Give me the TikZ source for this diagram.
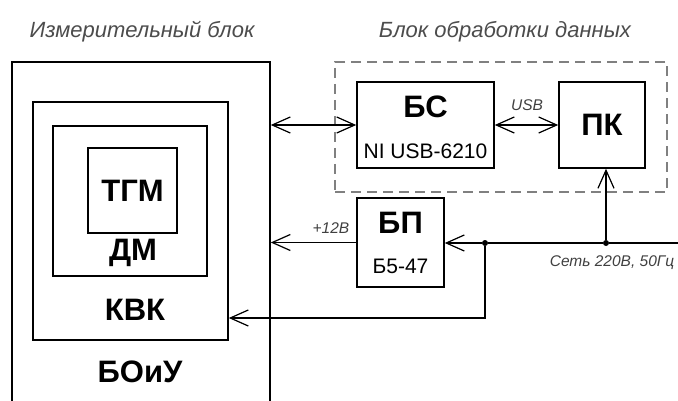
\documentclass[tikz,border=0pt]{standalone}
\usepackage{fontspec}
\setmainfont{Liberation Sans}
\usetikzlibrary{arrows.meta}
\begin{document}
\begin{tikzpicture}[x=1pt, y=-1pt,
  box/.style={draw, line width=1.6pt, inner sep=0pt},
  bigtext/.style={font=\fontsize{31}{33}\selectfont\bfseries},
  subtext/.style={font=\fontsize{21}{23}\selectfont},
  notetext/.style={font=\fontsize{15.5}{17}\selectfont\itshape, text=black!75},
  headtext/.style={font=\fontsize{22}{24}\selectfont\itshape, text=black!70},
  arrow/.style={-{Straight Barb[length=18pt,width=16pt]}, line width=1.2pt},
  biarrow/.style={{Straight Barb[length=18pt,width=16pt]}-{Straight Barb[length=18pt,width=16pt]}, line width=1.2pt},
  dot/.style={circle, fill, inner sep=0pt, minimum size=6pt}
]
\useasboundingbox (0,0) rectangle (678,401);

\node[headtext] (t1) at (142,32) {Измерительный блок};
\node[headtext] (t2) at (505,32) {Блок обработки данных};

\node[box, minimum width=258pt, minimum height=350pt] (bou) at (141,237) {};
\node[box, minimum width=195pt, minimum height=238pt] (kvk) at (130.5,221) {};
\node[box, minimum width=154pt, minimum height=150pt] (dm) at (130,201) {};
\node[box, bigtext, minimum width=89pt, minimum height=85pt] (tgm) at (132.5,190.5) {ТГМ};
\node[bigtext] (dmt) at (133,253) {ДМ};
\node[bigtext] (kvkt) at (135,310) {КВК};
\node[bigtext] (bout) at (140,372) {БОиУ};

\node[draw, gray, line width=1.2pt, dash pattern=on 10pt off 6pt, minimum width=332pt, minimum height=130pt] (dpb) at (501,127) {};
\node[box, minimum width=137pt, minimum height=86pt] (bs) at (425.5,125) {};
\node[bigtext] (bst) at (425.5,107) {БС};
\node[subtext] (bss) at (425.5,151) {NI USB-6210};
\node[box, bigtext, minimum width=86pt, minimum height=86pt] (pk) at (602,125) {ПК};

\node[box, minimum width=87pt, minimum height=89pt] (bp) at (400.5,242.5) {};
\node[bigtext] (bpt) at (400.5,223) {БП};
\node[subtext] (bps) at (400.5,266) {Б5-47};

\node[notetext] (usb) at (527,105) {USB};
\node[notetext] (v12) at (331,228) {+12В};
\node[notetext] (net) at (612,263) {Сеть 220В, 50Гц};

\coordinate (mains) at (678,243);
\node[dot] (j1) at (485,243) {};
\node[dot] (j2) at (606,243) {};
\coordinate (turn) at (485,318);

\draw[biarrow] (bs.west) -- (bs.west -| bou.east);
\draw[biarrow] (bs.east) -- (pk.west);
\draw[arrow] (bp.west) -- (bp.west -| bou.east);
\draw[line width=1.2pt] (mains) -- (j2) -- (j1);
\draw[arrow] (j1) -- (bp.east |- j1);
\draw[arrow] (j2) -- (j2 |- pk.south);
\draw[arrow] (j1) -- (turn) -- (turn -| kvk.east);
\end{tikzpicture}
\end{document}
